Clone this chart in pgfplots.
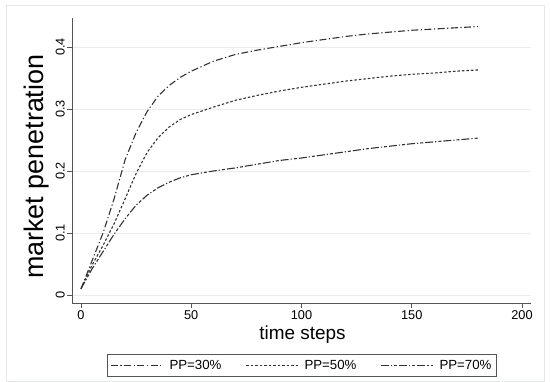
\documentclass[border=0pt]{standalone}
\usepackage{pgfplots}
\pgfplotsset{compat=1.18}
\usepackage{fontspec}
\setmainfont{Liberation Sans}
\definecolor{frame}{HTML}{E4E9EA}
\definecolor{gridc}{HTML}{E6EEEF}
\definecolor{linec}{HTML}{333333}
\definecolor{axc}{HTML}{555555}
\begin{document}
\begin{tikzpicture}
\path[use as bounding box] (-72bp,-79bp) rectangle (478bp,303bp);
\draw[frame, line width=0.8bp] (-65.5bp,-78.5bp) rectangle (472bp,298bp);
\begin{axis}[
  at={(0,0)}, anchor=south west,
  scale only axis, width=459bp, height=285bp,
  xmin=-4.08, xmax=204.1, ymin=-0.0129, ymax=0.4468,
  axis lines*=left,
  axis line style={axc, line width=0.9bp},
  xtick={0,50,100,150,200},
  ytick={0,0.1,0.2,0.3,0.4},
  yticklabels={0,0.1,0.2,0.3,0.4},
  tick align=outside, major tick length=5bp,
  tick style={axc, line width=0.8bp},
  ymajorgrids, grid style={gridc, line width=1bp},
  /pgf/number format/assume math mode=true,
  tick label style={font=\fontsize{12.8}{14}\selectfont, text=black},
  yticklabel style={rotate=90, anchor=south, inner sep=2bp},
  xticklabel style={inner sep=2bp},
  xlabel={time steps},
  xlabel style={font=\fontsize{19}{21}\selectfont, at={(axis description cs:0.502,-0.112)}, anchor=center},
  ylabel={market penetration},
  ylabel style={font=\fontsize{27}{29}\selectfont, at={(axis description cs:-0.078,0.478)}, anchor=center},
  legend columns=3,
  legend style={at={(axis description cs:0.501,-0.219)}, anchor=center,
    draw=axc, line width=0.8bp, font=\fontsize{13.3}{15}\selectfont,
    inner xsep=3bp, inner ysep=3.5bp,
    /tikz/every odd column/.append style={column sep=4bp},
    /tikz/every even column/.append style={column sep=22bp}},
  legend image code/.code={\draw[#1, line width=1.1bp] (0bp,0bp) -- (52bp,0bp);},
  every axis plot/.append style={linec, line width=1.1bp, no markers},
]
\addplot[dash pattern=on 7bp off 2.5bp on 1.2bp off 2.5bp] coordinates {
(0,0.01) (5,0.055) (10,0.100) (15,0.155) (20,0.218) (25,0.262) (30,0.296) (35,0.321)
(40,0.338) (45,0.351) (50,0.361) (60,0.377) (70,0.388) (80,0.395) (90,0.401)
(100,0.407) (110,0.412) (120,0.417) (130,0.421) (140,0.424) (150,0.427)
(160,0.429) (170,0.431) (180,0.433)};
\addlegendentry{PP=30\%}
\addplot[dash pattern=on 2.5bp off 2bp] coordinates {
(0,0.01) (5,0.048) (10,0.080) (15,0.115) (20,0.155) (25,0.196) (30,0.230) (35,0.254)
(40,0.271) (45,0.283) (50,0.291) (60,0.303) (70,0.314) (80,0.322) (90,0.329)
(100,0.335) (110,0.340) (120,0.345) (130,0.349) (140,0.353) (150,0.356)
(160,0.358) (170,0.361) (180,0.363)};
\addlegendentry{PP=50\%}
\addplot[dash pattern=on 8bp off 2bp on 1.2bp off 2bp on 3bp off 2bp] coordinates {
(0,0.01) (5,0.042) (10,0.070) (15,0.098) (20,0.123) (25,0.145) (30,0.161) (35,0.173)
(40,0.182) (45,0.189) (50,0.194) (55,0.197) (60,0.200) (70,0.205) (80,0.211) (90,0.217)
(100,0.221) (110,0.226) (120,0.231) (130,0.236) (140,0.240) (150,0.244)
(160,0.247) (170,0.250) (180,0.253)};
\addlegendentry{PP=70\%}
\end{axis}
\end{tikzpicture}
\end{document}
